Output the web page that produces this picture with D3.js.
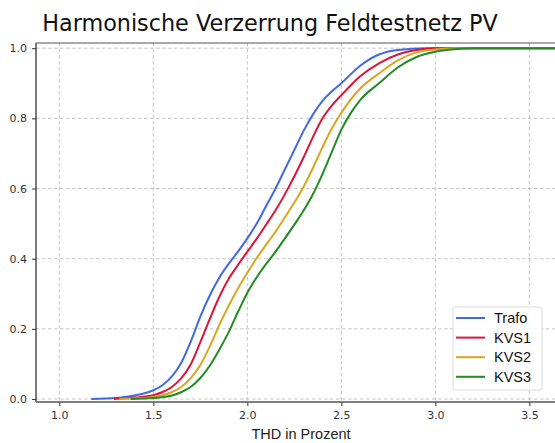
<!DOCTYPE html>
<html>
<head>
<meta charset="utf-8">
<script src="https://cdn.jsdelivr.net/npm/d3@7"></script>
<style>
  html, body { margin: 0; padding: 0; background: #fff; }
  svg { display: block; }
</style>
</head>
<body>
<svg id="chart" width="555" height="443"></svg>
<script>
// Cumulative distribution of THD (%) per measuring point
const seriesNames = ["Trafo", "KVS1", "KVS2", "KVS3"];
const seriesColors = ["#4169E1", "#DC143C", "#DAA520", "#228B22"];

const trafoX = [1.17, 1.3, 1.4, 1.5, 1.55, 1.6, 1.65, 1.7, 1.75, 1.8, 1.85, 1.9, 1.95, 2.0, 2.05, 2.1, 2.15, 2.2, 2.25, 2.3, 2.35, 2.4, 2.45, 2.5, 2.6, 2.7, 2.8, 2.95, 3.7];
const trafoP = [0, 0.003, 0.01, 0.025, 0.04, 0.065, 0.105, 0.165, 0.235, 0.295, 0.345, 0.385, 0.42, 0.458, 0.50, 0.55, 0.60, 0.655, 0.71, 0.765, 0.812, 0.85, 0.877, 0.90, 0.95, 0.982, 0.995, 1.0, 1.0];

const kvs1X = [1.29, 1.4, 1.5, 1.55, 1.6, 1.65, 1.7, 1.75, 1.8, 1.85, 1.9, 1.95, 2.0, 2.05, 2.1, 2.15, 2.2, 2.25, 2.3, 2.35, 2.4, 2.45, 2.5, 2.6, 2.7, 2.8, 2.9, 3.0, 3.7];
const kvs1P = [0, 0.004, 0.011, 0.02, 0.035, 0.06, 0.10, 0.162, 0.228, 0.29, 0.342, 0.382, 0.42, 0.457, 0.497, 0.538, 0.584, 0.635, 0.69, 0.748, 0.80, 0.837, 0.866, 0.92, 0.957, 0.982, 0.995, 1.0, 1.0];

const kvs2X = [1.32, 1.4, 1.5, 1.55, 1.6, 1.65, 1.7, 1.75, 1.8, 1.85, 1.9, 1.95, 2.0, 2.05, 2.1, 2.15, 2.2, 2.25, 2.3, 2.35, 2.4, 2.45, 2.5, 2.6, 2.7, 2.8, 2.9, 3.0, 3.1, 3.7];
const kvs2P = [0, 0.002, 0.006, 0.011, 0.02, 0.035, 0.06, 0.097, 0.15, 0.21, 0.265, 0.315, 0.36, 0.402, 0.44, 0.477, 0.518, 0.56, 0.606, 0.66, 0.718, 0.772, 0.816, 0.885, 0.928, 0.965, 0.988, 0.996, 1.0, 1.0];

const kvs3X = [1.38, 1.5, 1.6, 1.65, 1.7, 1.75, 1.8, 1.85, 1.9, 1.95, 2.0, 2.05, 2.1, 2.15, 2.2, 2.25, 2.3, 2.35, 2.4, 2.45, 2.5, 2.55, 2.6, 2.7, 2.8, 2.9, 3.0, 3.1, 3.2, 3.7];
const kvs3P = [0, 0.003, 0.01, 0.02, 0.035, 0.06, 0.095, 0.14, 0.19, 0.248, 0.303, 0.347, 0.385, 0.42, 0.458, 0.497, 0.538, 0.585, 0.642, 0.705, 0.768, 0.815, 0.852, 0.90, 0.945, 0.975, 0.99, 0.997, 1.0, 1.0];

const xTicks = [1.0, 1.5, 2.0, 2.5, 3.0, 3.5];
const yTicks = [0.0, 0.2, 0.4, 0.6, 0.8, 1.0];

const titleText = "Harmonische Verzerrung Feldtestnetz PV";
const xLabelText = "THD in Prozent";

const seriesX = [trafoX, kvs1X, kvs2X, kvs3X];
const seriesP = [trafoP, kvs1P, kvs2P, kvs3P];
const series = seriesNames.map((name, i) => ({
  name,
  color: seriesColors[i],
  points: seriesX[i].map((x, j) => ({ x, p: seriesP[i][j] }))
}));

const svg = d3.select("#chart");
const plot = { left: 36, right: 567, top: 43, bottom: 402 };

const x = d3.scaleLinear().domain([0.876, 3.70]).range([plot.left, plot.right]);
const y = d3.scaleLinear().domain([-0.0085, 1.0148]).range([plot.bottom, plot.top]);

const fontTick = "DejaVu Sans, sans-serif";

// Grid
const grid = svg.append("g").attr("stroke", "#b8b8b8").attr("stroke-width", 0.8).attr("stroke-dasharray", "3.5,2.5");
grid.selectAll("line.v").data(xTicks).join("line")
  .attr("x1", d => x(d)).attr("x2", d => x(d))
  .attr("y1", plot.top).attr("y2", plot.bottom);
grid.selectAll("line.h").data(yTicks).join("line")
  .attr("x1", plot.left).attr("x2", plot.right)
  .attr("y1", d => y(d)).attr("y2", d => y(d));

// Curves
const line = d3.line().x(d => x(d.x)).y(d => y(d.p)).curve(d3.curveMonotoneX);
svg.append("clipPath").attr("id", "plotclip").append("rect")
  .attr("x", plot.left).attr("y", plot.top - 2)
  .attr("width", plot.right - plot.left).attr("height", plot.bottom - plot.top + 2);
svg.append("g").attr("clip-path", "url(#plotclip)")
  .selectAll("path").data(series).join("path")
  .attr("d", d => line(d.points))
  .attr("fill", "none")
  .attr("stroke", d => d.color)
  .attr("stroke-width", 2)
  .attr("stroke-linejoin", "round");

// Axes
const xAxis = svg.append("g").attr("transform", `translate(0,${plot.bottom})`)
  .call(d3.axisBottom(x).tickValues(xTicks).tickFormat(d3.format(".1f")).tickSize(4).tickPadding(5));
const yAxis = svg.append("g").attr("transform", `translate(${plot.left},0)`)
  .call(d3.axisLeft(y).tickValues(yTicks).tickFormat(d3.format(".1f")).tickSize(4).tickPadding(5));
[xAxis, yAxis].forEach(a => {
  a.select(".domain").remove();
  a.selectAll("line").attr("stroke", "#333").attr("stroke-width", 1);
  a.selectAll("text").attr("font-family", fontTick).attr("font-size", 11).attr("fill", "#333");
});

// Spines
const spines = svg.append("g").attr("fill", "none");
spines.append("line").attr("x1", plot.left).attr("x2", plot.left).attr("y1", plot.top).attr("y2", plot.bottom)
  .attr("stroke", "#222").attr("stroke-width", 1.2);
spines.append("line").attr("x1", plot.left).attr("x2", plot.right).attr("y1", plot.top).attr("y2", plot.top)
  .attr("stroke", "#555").attr("stroke-width", 1.2);
spines.append("line").attr("x1", plot.left).attr("x2", plot.right).attr("y1", plot.bottom).attr("y2", plot.bottom)
  .attr("stroke", "#555").attr("stroke-width", 1.5);

// Title
svg.append("text")
  .attr("x", 270).attr("y", 31)
  .attr("text-anchor", "middle")
  .attr("font-family", "DejaVu Sans, sans-serif")
  .attr("font-size", 22.3)
  .attr("fill", "#111")
  .text(titleText);

// X axis label
svg.append("text")
  .attr("x", 301).attr("y", 439)
  .attr("text-anchor", "middle")
  .attr("font-family", "Liberation Sans, Arial, sans-serif")
  .attr("font-size", 14.5)
  .attr("fill", "#222")
  .text(xLabelText);

// Legend
const legend = svg.append("g").attr("transform", "translate(453,307)");
legend.append("rect")
  .attr("width", 89).attr("height", 83).attr("rx", 2)
  .attr("fill", "#fff").attr("fill-opacity", 0.85)
  .attr("stroke", "#d9d9d9").attr("stroke-width", 1);
const items = legend.selectAll("g.item").data(series).join("g")
  .attr("transform", (d, i) => `translate(0,${11 + i * 19.6})`);
items.append("line")
  .attr("x1", 3).attr("x2", 32).attr("y1", 0).attr("y2", 0)
  .attr("stroke", d => d.color).attr("stroke-width", 2);
items.append("text")
  .attr("x", 41).attr("y", 0)
  .attr("dy", "0.36em")
  .attr("font-family", "Liberation Sans, Arial, sans-serif")
  .attr("font-size", 14.5)
  .attr("fill", "#111")
  .text(d => d.name);
</script>
</body>
</html>
